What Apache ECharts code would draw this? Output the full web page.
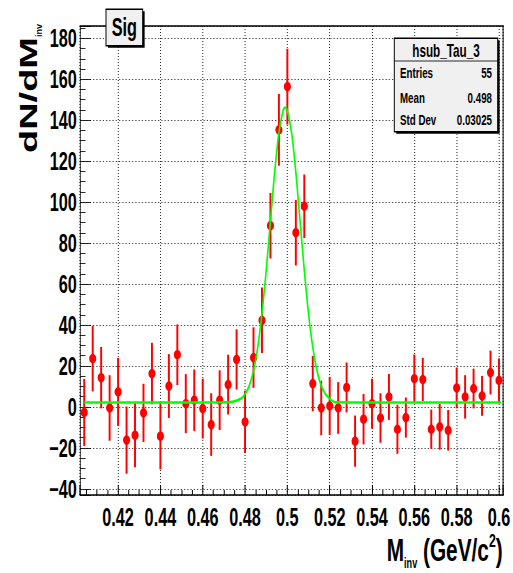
<!DOCTYPE html>
<html><head><meta charset="utf-8">
<script src="https://cdn.jsdelivr.net/npm/echarts@6/dist/echarts.min.js"></script>
<style>
html,body{margin:0;padding:0;background:#fff;overflow:hidden}
#wrap{width:513px;height:573px;overflow:hidden;position:relative;background:#fff}
#chart{width:789px;height:573px;transform:scaleX(0.65);transform-origin:0 0}
</style></head><body>
<div id="wrap"><div id="chart"></div></div>
<script>
// ---- data ----
const binCenters = [0.404,0.408,0.412,0.416,0.420,0.424,0.428,0.432,0.436,0.440,
  0.444,0.448,0.452,0.456,0.460,0.464,0.468,0.472,0.476,0.480,
  0.484,0.488,0.492,0.496,0.500,0.504,0.508,0.512,0.516,0.520,
  0.524,0.528,0.532,0.536,0.540,0.544,0.548,0.552,0.556,0.560,
  0.564,0.568,0.572,0.576,0.580,0.584,0.588,0.592,0.596,0.600];
const counts = [-2.7,23.6,14.3,-0.5,7.3,-16.2,-13.8,-2.9,16.3,-14.3,
  10.2,25.5,1.6,3.3,-0.8,-8.6,3.3,10.9,23.2,-7.3,
  24.1,42.3,88.5,135.3,156.4,85.1,98.0,11.4,-0.5,0.5,
  -0.5,9.5,-16.7,-6.0,1.6,-5.4,4.9,-10.9,-5.2,13.8,
  13.4,-10.9,-9.7,-11.4,9.3,4.9,9.0,5.4,16.8,13.0];
const errors = [16.4,16.0,15.0,16.0,16.6,16.4,15.6,14.2,15.0,16.2,
  15.6,14.8,14.4,15.0,14.6,15.3,14.6,14.6,14.7,15.2,
  14.8,16.0,16.0,17.5,18.5,16.0,15.5,13.5,13.3,14.2,
  12.6,12.2,12.5,12.3,12.2,12.1,11.2,12.0,9.8,11.8,
  10.5,9.6,11.2,9.9,10.0,10.6,9.7,9.7,10.7,10.7];
const fitX = [0.404,0.440,0.470,0.474,0.478,0.480,0.482,0.484,0.486,0.488,0.490,0.492,0.494,0.496,0.498,0.499,
  0.500,0.502,0.504,0.506,0.508,0.510,0.512,0.514,0.516,0.518,0.520,0.522,0.524,0.528,0.560,0.601];
const fitY = [2.2,2.2,2.23,2.49,4.01,6.21,10.4,17.65,29.1,45.6,66.7,90.8,114.6,133.9,144.8,146.2,
  144.8,133.9,114.6,90.8,66.7,45.6,29.1,17.65,10.4,6.21,4.01,2.49,2.23,2.2,2.2,2.2];
const xTickValues = [0.42,0.44,0.46,0.48,0.50,0.52,0.54,0.56,0.58,0.60];
const xTickLabels = ['0.42','0.44','0.46','0.48','0.5','0.52','0.54','0.56','0.58','0.6'];
const yTickValues = [-40,-20,0,20,40,60,80,100,120,140,160,180];
const yTickLabels = ['\u221240','\u221220','0','20','40','60','80','100','120','140','160','180'];
const histTitle = 'Sig';
const statsTitle = 'hsub_Tau_3';
const statsLabels = ['Entries','Mean','Std Dev'];
const statsValues = ['55','0.498','0.03025'];
const xTitleParts = ['M','inv',' (GeV/c','2',')'];
const yTitleParts = ['dN/dM','inv'];

// ---- layout (container is drawn 1/0.65 wider, then squeezed horizontally) ----
const K = 0.65;
const FF = '"Liberation Sans", Arial, Helvetica, sans-serif';
const ux = s => s / K;

function fmt(vals, labels) {
  return v => { const i = vals.findIndex(t => Math.abs(t - v) < 1e-6); return i >= 0 ? labels[i] : ''; };
}
const mctx = document.createElement('canvas').getContext('2d');
function tw(text, size) { mctx.font = 'bold ' + size + 'px ' + FF; return mctx.measureText(text).width; }

const chart = echarts.init(document.getElementById('chart'), null, {renderer: 'svg', width: 789, height: 573});

const gridLeft = ux(80), gridRight = 789 - ux(503.2);

// x title pieces, laid out right-to-left
const xtSizes = [32, 14, 32, 19, 32];
const xtY = [550, 563.5, 550, 540.3, 550];
let xr = ux(502.7);
const xtPos = [];
for (let i = xTitleParts.length - 1; i >= 0; i--) { xr -= tw(xTitleParts[i], xtSizes[i]); xtPos[i] = xr; }
const xTitleEls = xTitleParts.map((t, i) => ({type: 'text', x: xtPos[i], y: xtY[i], z: 10,
  style: {text: t, font: 'bold ' + xtSizes[i] + 'px ' + FF, fill: '#000', textAlign: 'left', textVerticalAlign: 'middle'}}));

function boxEls(x0, y0, x1, y1) {
  return [
    {type: 'rect', shape: {x: x0 + 3, y: y0 + 2, width: x1 - x0, height: y1 - y0}, style: {fill: '#000'}, z: 9},
    {type: 'rect', shape: {x: x0, y: y0, width: x1 - x0, height: y1 - y0}, style: {fill: '#f0f0f0', stroke: '#000', lineWidth: 1.5}, z: 9}
  ];
}
const sb = [ux(394.3), 38.3, ux(497.7), 131.7];
const rowY = [73, 98, 120];

const graphics = [].concat(
  boxEls(ux(106), 9.3, ux(142.7), 45.7),
  [{type: 'text', x: (ux(106) + ux(142.7)) / 2, y: 27.5, z: 10,
    style: {text: histTitle, font: 'bold 25px ' + FF, fill: '#000', textAlign: 'center', textVerticalAlign: 'middle'}}],
  boxEls(sb[0], sb[1], sb[2], sb[3]),
  [{type: 'line', shape: {x1: sb[0], y1: 61, x2: sb[2], y2: 61}, style: {stroke: '#000', lineWidth: 1}, z: 10},
   {type: 'text', x: (sb[0] + sb[2]) / 2, y: 50, z: 10,
    style: {text: statsTitle, font: 'bold 18px ' + FF, fill: '#000', textAlign: 'center', textVerticalAlign: 'middle'}}],
  statsLabels.map((t, i) => ({type: 'text', x: ux(400), y: rowY[i], z: 10,
    style: {text: t, font: 'bold 15px ' + FF, fill: '#000', textAlign: 'left', textVerticalAlign: 'middle'}})),
  statsValues.map((t, i) => ({type: 'text', x: ux(492), y: rowY[i], z: 10,
    style: {text: t, font: 'bold 15px ' + FF, fill: '#000', textAlign: 'right', textVerticalAlign: 'middle'}})),
  [{type: 'text', x: ux(28.8), y: 37, rotation: Math.PI / 2, z: 10,
    style: {text: yTitleParts[0], font: 'bold 38px ' + FF, fill: '#000', textAlign: 'right', textVerticalAlign: 'middle'}},
   {type: 'text', x: ux(39.2), y: 37, rotation: Math.PI / 2, scaleX: 0.6, z: 10,
    style: {text: yTitleParts[1], font: 'bold 15px ' + FF, fill: '#000', textAlign: 'left', textVerticalAlign: 'middle'}}],
  xTitleEls
);

const labelStyle = {fontFamily: FF, fontWeight: 'bold', fontSize: 25, color: '#000'};
const frameAxisX = {type: 'value', min: 0.402, max: 0.602, splitNumber: 10};
const frameAxisY = {type: 'value', min: -43, max: 186, splitNumber: 11};

const option = {
  animation: false,
  backgroundColor: '#fff',
  grid: {left: gridLeft, right: gridRight, top: 26, bottom: 78},
  xAxis: [
    Object.assign({}, frameAxisX, {
      position: 'bottom',
      axisLine: {show: true, onZero: false, lineStyle: {color: '#000', width: 1.5}},
      axisTick: {show: true, inside: true, length: 10, lineStyle: {color: '#000', width: 1.5}},
      minorTick: {show: true, splitNumber: 4, length: 5, lineStyle: {color: '#000', width: 1.5}},
      splitLine: {show: true, lineStyle: {color: '#222', width: 1.5, type: [1, 2]}},
      axisLabel: Object.assign({show: true, margin: 10, showMinLabel: false, showMaxLabel: false,
        formatter: fmt(xTickValues, xTickLabels)}, labelStyle)
    }),
    Object.assign({}, frameAxisX, {
      position: 'top',
      axisLine: {show: true, onZero: false, lineStyle: {color: '#000', width: 1.5}},
      axisTick: {show: false}, axisLabel: {show: false}, splitLine: {show: false}
    })
  ],
  yAxis: [
    Object.assign({}, frameAxisY, {
      position: 'left',
      axisLine: {show: true, onZero: false, lineStyle: {color: '#000', width: 1.2}},
      axisTick: {show: true, inside: true, length: 17, lineStyle: {color: '#000', width: 1}},
      minorTick: {show: true, splitNumber: 4, length: 8.5, lineStyle: {color: '#000', width: 1}},
      splitLine: {show: true, lineStyle: {color: '#222', width: 1, type: [2, 3]}},
      axisLabel: Object.assign({show: true, margin: 5, showMinLabel: false, showMaxLabel: false,
        formatter: fmt(yTickValues, yTickLabels)}, labelStyle)
    }),
    Object.assign({}, frameAxisY, {
      position: 'right',
      axisLine: {show: true, onZero: false, lineStyle: {color: '#000', width: 1.5}},
      axisTick: {show: false}, axisLabel: {show: false}, splitLine: {show: false}
    })
  ],
  series: [
    {
      type: 'custom', xAxisIndex: 0, yAxisIndex: 0, z: 2, silent: true,
      data: binCenters.map((x, i) => [x, counts[i], errors[i]]),
      encode: {x: 0, y: 1},
      renderItem: (params, api) => {
        const x = api.value(0), v = api.value(1), e = api.value(2);
        const p1 = api.coord([x, v - e]), p2 = api.coord([x, v + e]);
        return {type: 'line', shape: {x1: p1[0], y1: p1[1], x2: p2[0], y2: p2[1]},
          style: {stroke: '#ff0000', lineWidth: 3}};
      }
    },
    {
      type: 'scatter', xAxisIndex: 0, yAxisIndex: 0, z: 3, silent: true,
      symbol: 'circle', symbolSize: [11, 9.5],
      itemStyle: {color: '#ff0000', opacity: 1},
      data: binCenters.map((x, i) => [x, counts[i]])
    },
    {
      type: 'line', xAxisIndex: 0, yAxisIndex: 0, z: 4, silent: true,
      showSymbol: false, smooth: 0.3,
      lineStyle: {color: '#00ff00', width: 2.5},
      data: fitX.map((x, i) => [x, fitY[i]])
    }
  ],
  graphic: graphics
};
chart.setOption(option);
</script>
</body></html>
